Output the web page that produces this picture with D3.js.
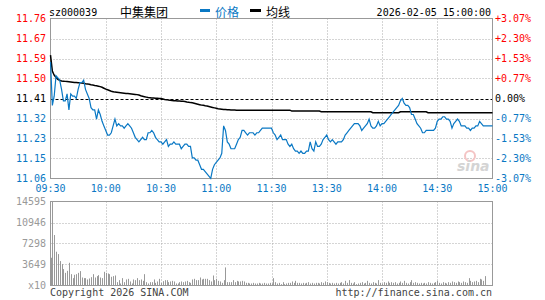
<!DOCTYPE html>
<html>
<head>
<meta charset="utf-8">
<script src="https://cdn.jsdelivr.net/npm/d3@7"></script>
<style>
  body { margin: 0; background: #fff; }
  text { font-family: "DejaVu Sans Mono", monospace; font-size: 10px; }
  .cjk { font-family: "Noto Sans CJK SC", sans-serif; font-size: 12px; }
</style>
</head>
<body>
<div id="chart"></div>
<script>
const code = "sz000039";
const name = "中集集团";
const stamp = "2026-02-05 15:00:00";
const preClose = 11.41;

const timeLabels = ["09:30", "10:00", "10:30", "11:00", "11:30", "13:30", "14:00", "14:30", "15:00"];
const timeIdx = [0, 30, 60, 90, 120, 150, 180, 210, 240];
const priceTicks = ["11.76", "11.67", "11.59", "11.50", "11.41", "11.32", "11.23", "11.15", "11.06"];
const pctTicks = [3.07, 2.30, 1.53, 0.77, 0, -0.77, -1.53, -2.30, -3.07];
const volTicks = [14595, 10946, 7298, 3649];

// one value per minute, 09:30 .. 11:30, 13:01 .. 15:00
const price = [
  11.57,11.38,11.42,11.51,11.50,11.49,11.45,11.40,11.40,11.43,
  11.36,11.43,11.42,11.42,11.41,11.45,11.48,11.48,11.49,11.45,
  11.43,11.41,11.37,11.36,11.36,11.32,11.36,11.34,11.31,11.29,
  11.27,11.25,11.25,11.26,11.29,11.32,11.29,11.30,11.29,11.29,
  11.28,11.29,11.30,11.29,11.28,11.26,11.24,11.23,11.22,11.23,
  11.24,11.23,11.23,11.26,11.26,11.27,11.26,11.24,11.23,11.22,
  11.22,11.21,11.22,11.23,11.20,11.21,11.21,11.22,11.21,11.21,
  11.21,11.19,11.20,11.21,11.21,11.20,11.20,11.15,11.15,11.14,
  11.14,11.12,11.10,11.10,11.09,11.08,11.07,11.06,11.10,11.12,
  11.13,11.14,11.15,11.17,11.29,11.27,11.22,11.21,11.19,11.19,
  11.19,11.21,11.23,11.24,11.27,11.27,11.26,11.25,11.26,11.26,
  11.26,11.25,11.26,11.26,11.27,11.28,11.28,11.28,11.28,11.28,
  11.28,
  11.26,11.25,11.23,11.24,11.25,11.23,11.23,11.23,11.21,11.20,
  11.21,11.19,11.18,11.18,11.17,11.18,11.17,11.17,11.18,11.18,
  11.22,11.19,11.18,11.22,11.20,11.20,11.21,11.23,11.24,11.25,
  11.23,11.22,11.23,11.22,11.21,11.22,11.22,11.22,11.23,11.25,
  11.26,11.27,11.28,11.29,11.30,11.30,11.30,11.29,11.27,11.28,
  11.29,11.30,11.32,11.29,11.28,11.28,11.29,11.31,11.29,11.30,
  11.30,11.31,11.32,11.33,11.34,11.35,11.36,11.37,11.38,11.40,
  11.41,11.39,11.38,11.38,11.37,11.34,11.34,11.32,11.30,11.29,
  11.28,11.26,11.26,11.27,11.27,11.27,11.27,11.27,11.28,11.31,
  11.32,11.32,11.33,11.33,11.32,11.32,11.31,11.28,11.30,11.31,
  11.32,11.31,11.29,11.29,11.29,11.28,11.28,11.27,11.28,11.28,
  11.29,11.29,11.31,11.30,11.29,11.29,11.29,11.29,11.29,11.29
];

const avg = [
  11.600,11.530,11.512,11.502,11.494,11.490,11.487,11.486,11.485,11.484,
  11.483,11.482,11.481,11.480,11.480,11.479,11.479,11.478,11.477,11.475,
  11.474,11.472,11.470,11.469,11.467,11.466,11.464,11.462,11.459,11.455,
  11.451,11.448,11.445,11.442,11.440,11.438,11.437,11.436,11.435,11.434,
  11.433,11.432,11.432,11.431,11.430,11.429,11.428,11.427,11.425,11.422,
  11.420,11.418,11.416,11.414,11.413,11.412,11.412,11.411,11.411,11.410,
  11.410,11.408,11.406,11.405,11.403,11.402,11.401,11.400,11.400,11.399,
  11.399,11.398,11.398,11.397,11.395,11.394,11.392,11.391,11.389,11.387,
  11.385,11.383,11.381,11.380,11.378,11.377,11.375,11.373,11.371,11.369,
  11.367,11.365,11.364,11.363,11.362,11.362,11.361,11.361,11.360,11.360,
  11.360,11.359,11.359,11.359,11.359,11.359,11.359,11.359,11.359,11.359,
  11.359,11.359,11.359,11.359,11.359,11.359,11.359,11.359,11.359,11.359,
  11.359,11.359,11.359,11.359,11.359,11.359,11.359,11.359,11.359,11.359,
  11.359,
  11.355,11.355,11.355,11.355,11.355,11.355,11.355,11.355,11.355,11.355,
  11.355,11.355,11.355,11.355,11.355,11.355,
  11.352,11.352,11.352,11.352,11.352,11.352,11.352,11.352,11.352,11.352,
  11.352,11.352,11.352,11.352,11.352,11.352,11.352,11.352,11.352,11.352,
  11.352,11.352,11.352,11.352,11.352,11.352,11.352,11.352,
  11.348,11.348,11.348,11.348,11.348,11.348,11.348,11.348,11.348,11.348,
  11.348,11.348,11.348,11.348,11.348,
  11.352,11.352,11.352,11.352,11.352,11.352,11.352,11.352,11.352,11.352,
  11.352,11.352,11.352,11.352,11.352,
  11.348,11.348,11.348,11.348,11.348,11.348,11.348,11.348,11.348,11.348,
  11.348,11.348,11.348,11.348,11.348,11.348,11.348,11.348,11.348,11.348,
  11.348,11.348,11.348,11.348,11.348,11.348,11.348,11.348,11.348,11.348,
  11.348,11.348,11.348,11.348,11.348,11.348
];

const volume = [
  4820,14595,8770,5870,5460,4240,3720,2850,2200,2550,
  3950,1970,1280,1860,1970,2200,2500,1390,1280,1280,
  1050,1220,1450,1970,1390,1630,1800,1390,1280,2380,
  2200,2090,1970,1510,1630,1740,580,930,350,1280,
  580,1050,1160,700,350,1050,930,1280,930,1050,
  810,1970,580,350,580,580,1050,460,700,1160,
  460,750,930,930,580,700,810,700,350,350,
  580,700,580,700,810,580,460,1050,1160,930,
  930,1390,1050,1160,1160,1160,930,700,1740,930,
  1160,810,700,460,930,3140,580,580,580,930,
  580,810,700,700,810,700,460,460,350,350,
  460,350,350,460,350,350,460,350,350,460,
  350,
  1280,580,350,460,230,580,230,350,460,460,
  700,460,810,460,460,350,460,350,460,580,
  350,460,350,460,460,350,580,460,700,580,
  460,350,460,350,460,350,460,580,350,810,
  460,930,460,350,580,230,350,460,580,350,
  460,810,460,350,580,460,350,930,460,350,
  580,460,700,460,580,460,580,350,460,700,
  460,810,460,350,580,930,460,580,460,350,
  460,350,460,350,580,460,350,460,580,810,
  460,350,580,460,350,580,460,700,580,460,
  700,580,460,700,580,460,1280,810,580,700,
  810,580,1160,1050,810,1630,0,0,0,0
];

const W = 545, H = 300;
const pLeft = 50.5, pRight = 492.5;
const pTop = 18.5, pBottom = 178.5;
const vTop = 201.5, vBottom = 285.5;
const red = "#f00", blue = "#0a78c4", gray = "#999";

const svg = d3.select("#chart").append("svg")
  .attr("width", W).attr("height", H);

const x = d3.scaleLinear().domain([0, 240]).range([pLeft, pRight]);
const yPct = d3.scaleLinear().domain([-3.07, 3.07]).range([pBottom, pTop]);
const yPrice = d3.scaleLinear()
  .domain([preClose * (1 - 0.0307), preClose * (1 + 0.0307)])
  .range([pBottom, pTop]);
const yVol = d3.scaleLinear().domain([0, 14595]).range([vBottom, vTop]);

const tone = v => v > 0 ? red : (v < 0 ? blue : "#000");

// header
svg.append("text").attr("x", 49).attr("y", 16).attr("fill", "#000").text(code);
svg.append("text").attr("class", "cjk").attr("x", 120).attr("y", 17).attr("fill", "#000").text(name);
svg.append("rect").attr("x", 200).attr("y", 9).attr("width", 10).attr("height", 3).attr("fill", blue);
svg.append("text").attr("class", "cjk").attr("x", 215).attr("y", 17).attr("fill", blue).text("价格");
svg.append("rect").attr("x", 250).attr("y", 9).attr("width", 11).attr("height", 3).attr("fill", "#000");
svg.append("text").attr("class", "cjk").attr("x", 266).attr("y", 17).attr("fill", "#000").text("均线");
svg.append("text").attr("x", 491).attr("y", 16).attr("text-anchor", "end").attr("fill", "#000").text(stamp);

// main grid
const g = svg.append("g");
g.selectAll("line.h").data(pctTicks.filter(d => d !== 0 && Math.abs(d) !== 3.07))
  .join("line").attr("class", "h")
  .attr("x1", pLeft).attr("x2", pRight)
  .attr("y1", d => Math.round(yPct(d)) + 0.5).attr("y2", d => Math.round(yPct(d)) + 0.5)
  .attr("stroke", "#aaa").attr("stroke-dasharray", "1,2");
g.selectAll("line.v").data(timeIdx.slice(1, -1))
  .join("line").attr("class", "v")
  .attr("x1", d => Math.round(x(d)) + 0.5).attr("x2", d => Math.round(x(d)) + 0.5)
  .attr("y1", pTop).attr("y2", pBottom)
  .attr("stroke", "#aaa").attr("stroke-dasharray", "1,2");
g.append("line")
  .attr("x1", pLeft).attr("x2", pRight)
  .attr("y1", Math.round(yPct(0)) + 0.5).attr("y2", Math.round(yPct(0)) + 0.5)
  .attr("stroke", "#000").attr("stroke-dasharray", "3,2");
g.append("rect").attr("x", pLeft).attr("y", pTop)
  .attr("width", pRight - pLeft).attr("height", pBottom - pTop)
  .attr("fill", "none").attr("stroke", gray);

// sina watermark
svg.append("circle").attr("cx", 470).attr("cy", 156).attr("r", 5)
  .attr("fill", "none").attr("stroke", "#f4c4c4").attr("stroke-width", 2);
svg.append("text").attr("x", 457).attr("y", 171)
  .style("font-family", "DejaVu Sans").style("font-size", "14px")
  .style("font-weight", "bold").style("font-style", "italic")
  .attr("fill", "#d4d4d4").text("sina");

// labels
svg.selectAll("text.pl").data(pctTicks)
  .join("text").attr("class", "pl")
  .attr("x", 46).attr("y", d => yPct(d) + 3.5)
  .attr("text-anchor", "end")
  .attr("fill", tone)
  .text((d, i) => priceTicks[i]);
svg.selectAll("text.pr").data(pctTicks)
  .join("text").attr("class", "pr")
  .attr("x", 495).attr("y", d => yPct(d) + 3.5)
  .attr("fill", tone)
  .text(d => (d > 0 ? "+" : (d < 0 ? "-" : "")) + Math.abs(d).toFixed(2) + "%");
svg.selectAll("text.t").data(timeLabels)
  .join("text").attr("class", "t")
  .attr("x", (d, i) => x(timeIdx[i])).attr("y", 192)
  .attr("text-anchor", "middle").attr("fill", blue)
  .text(d => d);

// lines
svg.append("path").datum(avg)
  .attr("d", d3.line().x((d, i) => x(i)).y(d => yPrice(d)))
  .attr("fill", "none").attr("stroke", "#000").attr("stroke-width", 1.5);
svg.append("path").datum(price)
  .attr("d", d3.line().x((d, i) => x(i)).y(d => yPrice(d)))
  .attr("fill", "none").attr("stroke", blue).attr("stroke-width", 1.2);

// volume panel
const vg = svg.append("g");
vg.selectAll("line.h").data(volTicks.slice(1))
  .join("line").attr("class", "h")
  .attr("x1", pLeft).attr("x2", pRight)
  .attr("y1", d => Math.round(yVol(d)) + 0.5).attr("y2", d => Math.round(yVol(d)) + 0.5)
  .attr("stroke", "#aaa").attr("stroke-dasharray", "1,2");
vg.selectAll("line.v").data(timeIdx.slice(1, -1))
  .join("line").attr("class", "v")
  .attr("x1", d => Math.round(x(d)) + 0.5).attr("x2", d => Math.round(x(d)) + 0.5)
  .attr("y1", vTop).attr("y2", vBottom)
  .attr("stroke", "#aaa").attr("stroke-dasharray", "1,2");
vg.selectAll("rect.bar").data(volume)
  .join("rect").attr("class", "bar")
  .attr("x", (d, i) => Math.round(x(i)))
  .attr("y", d => yVol(d))
  .attr("width", 1)
  .attr("height", d => vBottom - yVol(d))
  .attr("fill", gray);
vg.append("rect").attr("x", pLeft).attr("y", vTop)
  .attr("width", pRight - pLeft).attr("height", vBottom - vTop)
  .attr("fill", "none").attr("stroke", gray);

svg.selectAll("text.vl").data(volTicks)
  .join("text").attr("class", "vl")
  .attr("x", 46).attr("y", d => yVol(d) + 3.5)
  .attr("text-anchor", "end").attr("fill", gray)
  .text(d => d);
svg.append("text").attr("x", 46).attr("y", vBottom + 3.5)
  .attr("text-anchor", "end").attr("fill", gray).text("x10");

// footer
svg.append("text").attr("x", 50).attr("y", 296).attr("fill", "#444").text("Copyright 2026 SINA.COM");
svg.append("text").attr("x", 492).attr("y", 296).attr("text-anchor", "end").attr("fill", "#444")
  .text("http://finance.sina.com.cn");
</script>
</body>
</html>
